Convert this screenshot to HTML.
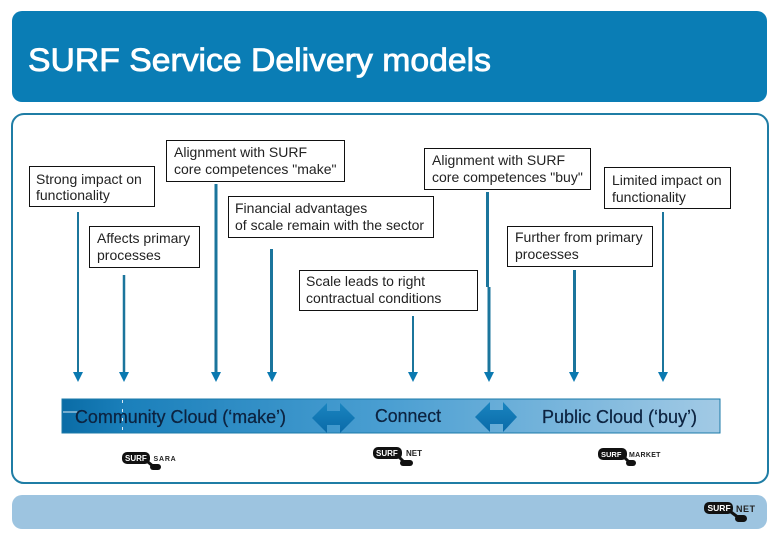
<!DOCTYPE html>
<html>
<head>
<meta charset="utf-8">
<style>
html,body{margin:0;padding:0;background:#fff;}
svg{display:block;}
text{font-family:"Liberation Sans",sans-serif;}
.b{fill:#fff;stroke:#111;stroke-width:1;}
.t{font-size:14px;fill:#222;}
.c{font-size:18px;fill:#0c2340;stroke:#0c2340;stroke-width:.25px;}
.s{font-size:8px;font-weight:bold;fill:#fff;}
.n{font-size:8px;font-weight:bold;fill:#222;}
</style>
</head>
<body>
<svg width="780" height="540" viewBox="0 0 780 540" xmlns="http://www.w3.org/2000/svg">
<defs>
<linearGradient id="g" x1="0" x2="1" y1="0" y2="0">
<stop offset="0" stop-color="#0a6ca6"/>
<stop offset="0.1" stop-color="#1b80bb"/>
<stop offset="0.5" stop-color="#4b9fd2"/>
<stop offset="1" stop-color="#a2cae5"/>
</linearGradient>
<linearGradient id="a" x1="0" x2="0" y1="0" y2="1">
<stop offset="0" stop-color="#1a85c0"/>
<stop offset="1" stop-color="#0a6aa8"/>
</linearGradient>
</defs>
<rect width="780" height="540" fill="#fff"/>
<rect x="12" y="11" width="755" height="91" rx="10" fill="#0a7db5"/>
<text x="28" y="71" fill="#fff" stroke="#fff" stroke-width="0.8" textLength="463" lengthAdjust="spacingAndGlyphs" style="font-size:32px">SURF Service Delivery models</text>
<rect x="12" y="114" width="756" height="369" rx="12" fill="#fff" stroke="#1f7da5" stroke-width="2"/>
<rect x="12" y="495" width="755" height="34" rx="10" fill="#9dc4e0"/>

<g stroke="#1b759c" fill="none">
<line x1="78" y1="212" x2="78" y2="376" stroke-width="2"/>
<line x1="124" y1="275" x2="124" y2="376" stroke-width="2.5"/>
<line x1="216" y1="184" x2="216" y2="376" stroke-width="3"/>
<line x1="271.500" y1="249" x2="271.500" y2="376" stroke-width="3"/>
<line x1="413" y1="316" x2="413" y2="376" stroke-width="2"/>
<line x1="487.500" y1="192" x2="487.500" y2="287" stroke-width="3"/>
<line x1="489" y1="287" x2="489" y2="376" stroke-width="3"/>
<line x1="574.500" y1="270" x2="574.500" y2="376" stroke-width="3"/>
<line x1="663" y1="212" x2="663" y2="376" stroke-width="2"/>
</g>
<g fill="#0a79b0">
<polygon points="73,372 83,372 78,382"/>
<polygon points="119,372 129,372 124,382"/>
<polygon points="211,372 221,372 216,382"/>
<polygon points="267,372 277,372 272,382"/>
<polygon points="408,372 418,372 413,382"/>
<polygon points="484,372 494,372 489,382"/>
<polygon points="569,372 579,372 574,382"/>
<polygon points="658,372 668,372 663,382"/>
</g>

<rect x="29.500" y="166.500" width="125" height="40" class="b"/>
<text x="36" y="184" class="t">Strong impact on</text>
<text x="36" y="200" class="t">functionality</text>

<rect x="89.500" y="226.500" width="110" height="41" class="b"/>
<text x="97" y="243" class="t">Affects primary</text>
<text x="97" y="260" class="t">processes</text>

<rect x="166.500" y="140.500" width="178" height="41" class="b"/>
<text x="174" y="157" class="t">Alignment with SURF</text>
<text x="174" y="174" class="t">core competences "make"</text>

<rect x="228.500" y="196.500" width="205" height="41" class="b"/>
<text x="235" y="213" class="t">Financial advantages</text>
<text x="235" y="230" class="t">of scale remain with the sector</text>

<rect x="424.500" y="148.500" width="166" height="41" class="b"/>
<text x="432" y="165" class="t">Alignment with SURF</text>
<text x="432" y="182" class="t">core competences "buy"</text>

<rect x="604.500" y="167.500" width="126" height="41" class="b"/>
<text x="612" y="185" class="t">Limited impact on</text>
<text x="612" y="202" class="t">functionality</text>

<rect x="507.500" y="226.500" width="145" height="40" class="b"/>
<text x="515" y="242" class="t">Further from primary</text>
<text x="515" y="259" class="t">processes</text>

<rect x="299.500" y="270.500" width="178" height="40" class="b"/>
<text x="306" y="286" class="t">Scale leads to right</text>
<text x="306" y="303" class="t">contractual conditions</text>

<rect x="62" y="399" width="658" height="34" fill="url(#g)" stroke="#1b7aa8" stroke-width="1"/>
<line x1="63" y1="412" x2="78" y2="412" stroke="#dbeaf4" stroke-width="1"/>
<line x1="122.500" y1="400" x2="122.500" y2="432" stroke="#dbeaf4" stroke-width="1" stroke-dasharray="3 6"/>
<text x="75" y="423" class="c" textLength="211" lengthAdjust="spacingAndGlyphs">Community Cloud (‘make’)</text>
<text x="375" y="422" class="c" textLength="66" lengthAdjust="spacingAndGlyphs">Connect</text>
<text x="542" y="423" class="c" textLength="155" lengthAdjust="spacingAndGlyphs">Public Cloud (‘buy’)</text>

<polygon points="312,418 327,403 327,411 340,411 340,403 355,418 340,433 340,425 327,425 327,433" fill="url(#a)"/>
<polygon points="475,417 490,402 490,410 503,410 503,402 517,417 503,432 503,424 490,424 490,432" fill="url(#a)"/>

<!-- logos -->
<g>
<rect x="122" y="452" width="28" height="12" rx="5" fill="#111"/>
<rect x="150" y="464" width="11" height="6" rx="3" fill="#111"/>
<line x1="148" y1="462" x2="154" y2="467" stroke="#111" stroke-width="3"/>
<text x="125" y="461" class="s">SURF</text>
<text x="153.500" y="461" class="n" style="font-size:7px;letter-spacing:.8px">SARA</text>
</g>
<g>
<rect x="373" y="447" width="29" height="12" rx="5" fill="#111"/>
<rect x="400" y="460" width="13" height="6" rx="3" fill="#111"/>
<line x1="399" y1="457" x2="405" y2="463" stroke="#111" stroke-width="3"/>
<text x="376" y="456" class="s">SURF</text>
<text x="406" y="456" class="n">NET</text>
</g>
<g>
<rect x="598" y="448" width="29" height="12" rx="5" fill="#111"/>
<rect x="626" y="460" width="10" height="6" rx="3" fill="#111"/>
<line x1="625" y1="458" x2="630" y2="463" stroke="#111" stroke-width="3"/>
<text x="601" y="457" class="s" style="font-size:7.500px">SURF</text>
<text x="629" y="457" class="n" style="font-size:7px;letter-spacing:.3px">MARKET</text>
</g>
<g>
<rect x="704" y="502" width="29" height="12" rx="5" fill="#111"/>
<rect x="735" y="515" width="12" height="7" rx="3.500" fill="#111"/>
<line x1="731" y1="512" x2="739" y2="518" stroke="#111" stroke-width="3"/>
<text x="707.500" y="511" class="s" style="font-size:8.500px">SURF</text>
<text x="736" y="512" class="n" style="font-size:9px;letter-spacing:.5px">NET</text>
</g>
</svg>
</body>
</html>
